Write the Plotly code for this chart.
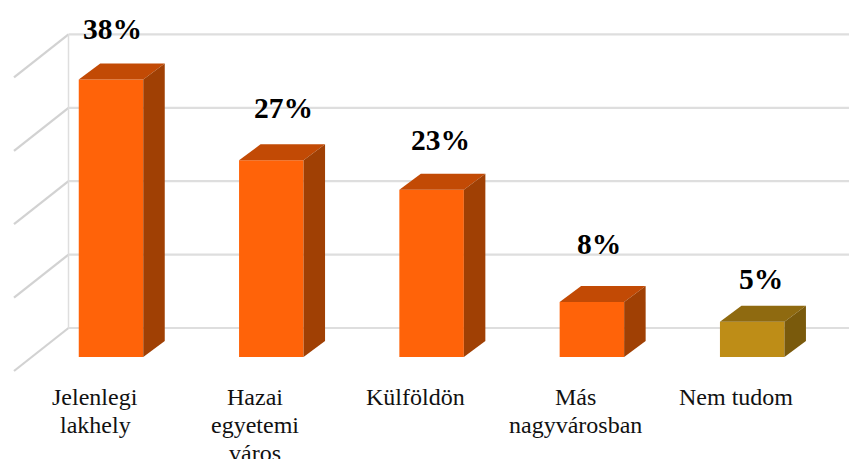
import plotly.graph_objects as go

categories = ["Jelenlegi<br>lakhely", "Hazai<br>egyetemi<br>város", "Külföldön", "Más<br>nagyvárosban", "Nem tudom"]
values = [37.8, 26.8, 22.8, 7.5, 4.8]
value_labels = ["38%", "27%", "23%", "8%", "5%"]
grid_values = [0, 10, 20, 30, 40]

front_colors = ["#FF6309", "#FF6309", "#FF6309", "#FF6309", "#BE8D17"]
top_colors = ["#C24A05", "#C24A05", "#C24A05", "#C24A05", "#8F6A10"]
side_colors = ["#A04004", "#A04004", "#A04004", "#A04004", "#7A5A0C"]

# oblique-projection constants, axis units
PAGE = 8  # browser's default body margin
PX_X, PX_Y = 160.3, 7.34
WALL_DX, WALL_DY = 54.5 / PX_X, 43 / PX_Y
BAR_OFF_X, BAR_OFF_Y = 16 / PX_X, 14 / PX_Y
BAR_W = 64.5 / PX_X
BAR_DX, BAR_DY = 21.5 / PX_X, 16 / PX_Y
LABEL_SHIFT = [1, 12, 9, 7, 9]
LABEL_Y_PX = [29, 108, 140, 244, 279]
FLOOR_PX = 371
FLOOR_LEFT = -81 / PX_X
RIGHT = (857 - 95) / PX_X

xs = list(range(len(categories)))
fig = go.Figure()

fig.add_trace(go.Bar(
    x=[i + BAR_OFF_X for i in xs], y=values, base=BAR_OFF_Y, width=BAR_W,
    marker=dict(color=front_colors, line=dict(width=0)), showlegend=False, hoverinfo="skip",
))

for i, v in enumerate(values):
    l = i + BAR_OFF_X - BAR_W / 2
    r = l + BAR_W
    b = BAR_OFF_Y
    t = b + v
    fig.add_trace(go.Scatter(
        x=[l, r, r + BAR_DX, l + BAR_DX, l], y=[t, t, t + BAR_DY, t + BAR_DY, t],
        mode="lines", fill="toself", fillcolor=top_colors[i], line=dict(width=0),
        showlegend=False, hoverinfo="skip"))
    fig.add_trace(go.Scatter(
        x=[r, r + BAR_DX, r + BAR_DX, r, r], y=[b, b + BAR_DY, t + BAR_DY, t, b],
        mode="lines", fill="toself", fillcolor=side_colors[i], line=dict(width=0),
        showlegend=False, hoverinfo="skip"))

shapes = []
back_left = FLOOR_LEFT + WALL_DX
for g in grid_values:
    shapes.append(dict(type="line", layer="below", x0=FLOOR_LEFT, y0=g, x1=back_left, y1=g + WALL_DY,
                       line=dict(color="#D2D2D2", width=2.2)))
    shapes.append(dict(type="line", layer="below", x0=back_left, y0=g + WALL_DY, x1=RIGHT, y1=g + WALL_DY,
                       line=dict(color="#DEDEDE", width=2.2)))
shapes.append(dict(type="line", layer="below", x0=back_left, y0=grid_values[0] + WALL_DY,
                   x1=back_left, y1=grid_values[-1] + WALL_DY, line=dict(color="#DEDEDE", width=1.5)))

annotations = []
for i, lab in enumerate(value_labels):
    annotations.append(dict(
        x=i + BAR_OFF_X, xref="x", xshift=LABEL_SHIFT[i],
        y=(FLOOR_PX - LABEL_Y_PX[i]) / PX_Y, yref="y", yanchor="middle", xanchor="center",
        text=f"<b>{lab}</b>", showarrow=False,
        font=dict(family="Liberation Serif", size=29.5, color="#000000")))
for i, cat in enumerate(categories):
    for j, line in enumerate(cat.split("<br>")):
        annotations.append(dict(
            x=i, xref="x", y=-(26 + 28 * j) / PX_Y, yref="y", yanchor="middle", xanchor="center",
            text=line, showarrow=False, captureevents=False,
            font=dict(family="Liberation Serif", size=24, color="#111111")))

fig.update_layout(
    width=857 - PAGE, height=459 - PAGE, margin=dict(l=0, r=0, t=0, b=0, pad=0),
    paper_bgcolor="white", plot_bgcolor="white", barmode="overlay",
    shapes=shapes, annotations=annotations, showlegend=False,
    xaxis=dict(range=[(PAGE - 95) / PX_X, RIGHT], visible=False, fixedrange=True),
    yaxis=dict(range=[-(459 - FLOOR_PX) / PX_Y, (FLOOR_PX - PAGE) / PX_Y], visible=False, fixedrange=True),
)
fig.write_html("out.html", config=dict(displayModeBar=False))
